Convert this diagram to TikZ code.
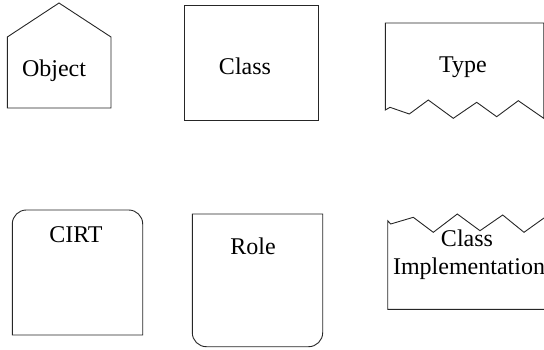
\documentclass[tikz,border=0pt]{standalone}
\usepackage{fontspec}
\setmainfont{Liberation Serif}
\begin{document}
\begin{tikzpicture}[x=1pt,y=-1pt,
  outline/.style={draw=black!85, line width=0.9pt, line join=miter},
  caption/.style={font=\fontsize{24}{27}\selectfont, inner sep=0pt, anchor=base}]
\useasboundingbox (0,0) rectangle (544,349);
\clip (0,0) rectangle (544,349);

% Object: house-shaped pentagon
\draw[outline] (7.3,108) -- (7.3,37) -- (59,3) -- (111,37) -- (111,108) -- cycle;
\node[caption] (object) at (54,76) {Object};

% Class: plain rectangle
\draw[outline] (184.3,5.7) rectangle (318.3,120);
\node[caption] (class) at (245,74) {Class};

% Type: rectangle with a jagged lower edge
\draw[outline] (385.3,110) -- (385.3,23) -- (543.7,23) -- (543.7,118.3)
  -- (518.3,100.7) -- (496.7,116.7) -- (476.7,102.3) -- (453.3,118.3)
  -- (428.3,100) -- (409.3,114) -- (390,107.3) -- cycle;
\node[caption] (type) at (463,72.7) {Type};

% CIRT: rounded top corners
\draw[outline, rounded corners=14pt] (12.3,335) -- (12.3,210) -- (142.7,210)
  [sharp corners] -- (142.7,335) -- cycle;
\node[caption] (cirt) at (76,242.7) {CIRT};

% Role: rounded bottom corners
\draw[outline, rounded corners=14pt] (192.3,214) -- (192.3,346.7) -- (322.7,346.7)
  [sharp corners] -- (322.7,214) -- cycle;
\node[caption] (role) at (253,254) {Role};

% Class Implementation: jagged upper edge, running past the right border
\draw[outline] (560,218) -- (544,218) -- (524,232.3) -- (502.7,215) -- (480,230.7)
  -- (457.3,214) -- (433.3,232.3) -- (413.3,217.3) -- (390.7,224) -- (387.7,220.7)
  -- (387.7,309.3) -- (560,309.3);
\node[caption] (cimpl1) at (467,246) {Class};
\node[caption] (cimpl2) at (469,274) {Implementation};
\end{tikzpicture}
\end{document}
